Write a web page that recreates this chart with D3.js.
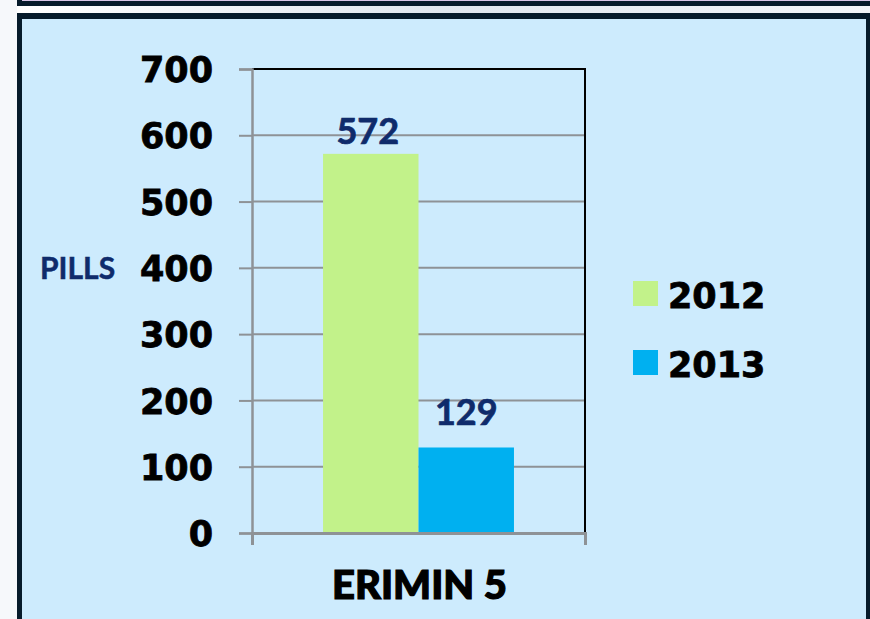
<!DOCTYPE html>
<html lang="en">
<head>
    <meta charset="UTF-8">
    <title>Erimin 5</title>
    <script src="https://d3js.org/d3.v7.min.js"></script>
    <style>
        body { margin: 0; background: #f6f8fb; }
        svg { display: block; }
    </style>
</head>
<body>
<svg id="chart" width="870" height="619"></svg>

<script>
    const categories = ['ERIMIN 5'];
    const seriesNames = ['2012', '2013'];
    const values2012 = [572];
    const values2013 = [129];
    const yTicks = [0, 100, 200, 300, 400, 500, 600, 700];

    const COLORS = {'2012': '#c2f28a', '2013': '#00b0f0'};
    const LABEL_GAP = {'2012': 10, '2013': 22};
    const PLOT = {left: 252, right: 585, top: 69, bottom: 533};
    const HEAVY = '"DejaVu Sans", sans-serif';
    const svg = d3.select('#chart');

    // frame bits around the chart
    const bgGrad = svg.append('defs').append('linearGradient')
        .attr('id', 'strip').attr('x1', 0).attr('x2', 1);
    bgGrad.append('stop').attr('offset', 0).attr('stop-color', '#ffffff');
    bgGrad.append('stop').attr('offset', 0.5).attr('stop-color', '#dfe6ee');
    bgGrad.append('stop').attr('offset', 1).attr('stop-color', '#f2f5f9');

    svg.append('rect').attr('x', 0).attr('y', 0).attr('width', 870).attr('height', 619).attr('fill', '#f6f8fb');
    svg.append('rect').attr('x', 17).attr('y', 6).attr('width', 853).attr('height', 8).attr('fill', 'url(#strip)');
    // upper panel edge
    svg.append('rect').attr('x', 17).attr('y', -10).attr('width', 860).attr('height', 16).attr('fill', '#061b2b');
    svg.append('rect').attr('x', 22).attr('y', -10).attr('width', 860).attr('height', 11).attr('fill', '#d9c6e8');
    // main panel
    svg.append('rect').attr('x', 17).attr('y', 13).attr('width', 870).attr('height', 620).attr('fill', '#061b2b');
    svg.append('rect').attr('x', 22).attr('y', 19).attr('width', 844).attr('height', 610).attr('fill', '#cdebfd');

    const y = d3.scaleLinear().domain([0, 700]).range([PLOT.bottom, PLOT.top]);
    const x0 = d3.scaleBand().domain(categories).range([PLOT.left, PLOT.right]).paddingOuter(0.372);
    const x1 = d3.scaleBand().domain(seriesNames).range([0, x0.bandwidth()]);

    // gridlines
    svg.append('g').selectAll('line')
        .data(yTicks.filter(d => d > 0 && d < 700))
        .join('line')
        .attr('x1', PLOT.left).attr('x2', PLOT.right)
        .attr('y1', d => y(d)).attr('y2', d => y(d))
        .attr('stroke', '#8e9296').attr('stroke-width', 2);

    // top and right border of plot area
    svg.append('path')
        .attr('d', `M${PLOT.left},${y(700)}H${PLOT.right}V${PLOT.bottom}`)
        .attr('fill', 'none').attr('stroke', '#000').attr('stroke-width', 2);

    const rows = categories.map((c, i) => ({cat: c, vals: [
        {name: '2012', v: values2012[i]},
        {name: '2013', v: values2013[i]}
    ]}));

    const groups = svg.append('g').selectAll('g')
        .data(rows).join('g')
        .attr('transform', d => `translate(${x0(d.cat)},0)`);

    groups.selectAll('rect')
        .data(d => d.vals).join('rect')
        .attr('x', d => x1(d.name))
        .attr('y', d => y(d.v))
        .attr('width', x1.bandwidth())
        .attr('height', d => y(0) - y(d.v))
        .attr('fill', d => COLORS[d.name]);

    groups.selectAll('text')
        .data(d => d.vals).join('text')
        .attr('x', d => x1(d.name) + x1.bandwidth() / 2 - (d.name === '2012' ? 3 : 0))
        .attr('y', d => y(d.v) - LABEL_GAP[d.name])
        .attr('text-anchor', 'middle')
        .attr('stroke', '#0f2b6b').attr('stroke-width', 0.7)
        .style('font-family', 'Lato, "Open Sans", sans-serif')
        .style('font-weight', 700)
        .style('font-size', '36px')
        .attr('fill', '#0f2b6b')
        .text(d => d.v);

    // y axis
    const yAxis = d3.axisLeft(y).tickValues(yTicks).tickSize(13).tickPadding(26);
    const yg = svg.append('g').attr('transform', `translate(${PLOT.left},0)`).call(yAxis);
    yg.select('.domain').attr('stroke', '#8e9296').attr('stroke-width', 2.5);
    yg.selectAll('.tick line').attr('stroke', '#8e9296').attr('stroke-width', 2);
    yg.selectAll('.tick text')
        .attr('fill', '#000')
        .attr('stroke', '#000').attr('stroke-width', 0.8)
        .attr('dy', '0.36em')
        .style('font-family', HEAVY)
        .style('font-weight', 700)
        .style('font-size', '35px');

    // x axis
    const xAxis = d3.axisBottom(d3.scaleLinear().domain([0, 1]).range([PLOT.left, PLOT.right]))
        .tickValues([0, 1]).tickSize(12).tickFormat('');
    const xg = svg.append('g').attr('transform', `translate(0,${PLOT.bottom})`).call(xAxis);
    xg.select('.domain').attr('stroke', '#8e9296').attr('stroke-width', 3);
    xg.selectAll('.tick line').attr('stroke', '#8e9296').attr('stroke-width', 2);

    svg.append('text')
        .attr('x', x0(categories[0]) + x0.bandwidth() / 2 + 1)
        .attr('y', 599)
        .attr('text-anchor', 'middle')
        .attr('stroke', '#000').attr('stroke-width', 1.2)
        .style('font-family', 'Lato, sans-serif')
        .style('font-weight', 900)
        .style('font-size', '40px')
        .text(categories[0]);

    svg.append('text')
        .attr('x', 40).attr('y', 279)
        .attr('stroke', '#0f2b6b').attr('stroke-width', 0.5)
        .style('font-family', 'Lato, "Open Sans", sans-serif')
        .style('font-weight', 700)
        .style('font-size', '30px')
        .attr('fill', '#0f2b6b')
        .text('PILLS');

    // legend
    const legend = svg.append('g').selectAll('g')
        .data(seriesNames).join('g')
        .attr('transform', (d, i) => `translate(633,${281 + i * 69})`);
    legend.append('rect').attr('width', 25).attr('height', 25).attr('fill', d => COLORS[d]);
    legend.append('text')
        .attr('x', 35).attr('y', 27)
        .attr('stroke', '#000').attr('stroke-width', 0.8)
        .style('font-family', HEAVY)
        .style('font-weight', 700)
        .style('font-size', '35px')
        .text(d => d);
</script>
</body>
</html>
